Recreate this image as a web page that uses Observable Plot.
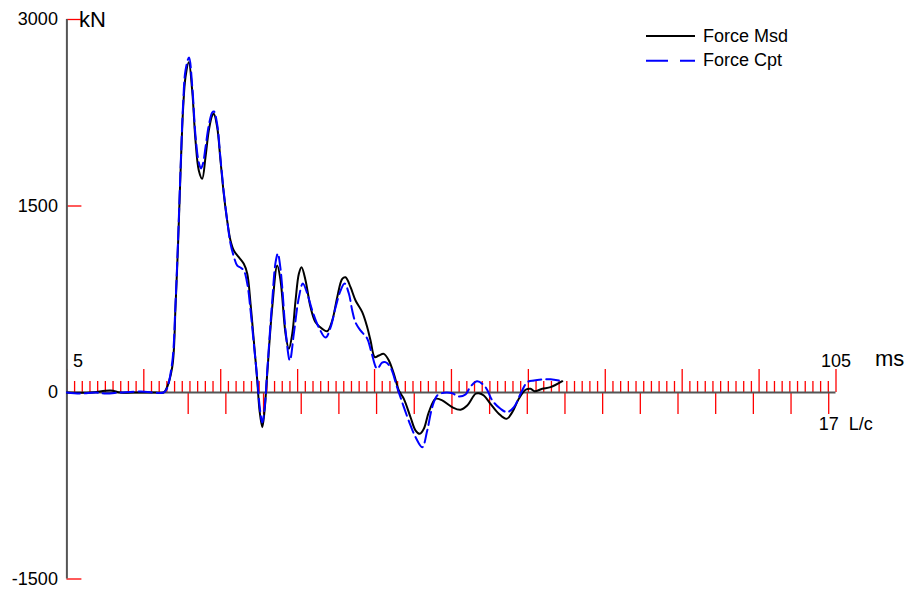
<!DOCTYPE html>
<html><head><meta charset="utf-8">
<script src="https://cdn.jsdelivr.net/npm/d3@7"></script>
<script src="https://cdn.jsdelivr.net/npm/@observablehq/plot@0.6"></script>
<style>
body{margin:0;background:#fff;}
#wrap{position:relative;width:909px;height:592px;font-family:"Liberation Sans",Arial,sans-serif;background:#fff;}
.lg{position:absolute;font-size:18px;line-height:20px;color:#000;white-space:nowrap;}
</style></head><body><div id="wrap"></div>
<script>
// Measured force (ms, kN)
const timeMsd = [5.0,8.07,10.67,11.97,14.57,16.52,17.56,17.82,18.69,19.12,19.47,19.77,20.12,20.42,20.85,21.29,21.72,22.15,22.59,23.02,23.45,23.89,24.10,24.54,24.97,25.40,25.84,26.27,26.70,27.35,28.00,28.45,28.88,29.30,29.75,30.05,30.40,30.70,31.05,31.70,32.35,32.78,33.43,33.86,34.30,34.73,35.16,35.51,36.03,36.68,37.33,38.20,38.85,39.50,40.15,40.80,41.23,41.88,42.53,43.40,44.05,44.48,45.04,45.56,46.21,46.86,47.51,48.16,48.81,49.68,50.34,50.89,51.41,52.06,52.93,53.80,55.10,56.18,57.05,58.13,58.56,59.21,60.08,61.16,62.16,62.91,63.76,64.64,65.29,65.81,66.81,67.89,69.41];
const forceMsd = [0,0,16,0,0,0,0,16,203,686,1223,1761,2295,2536,2657,2429,2027,1786,1719,1893,2107,2228,2242,2134,1866,1598,1383,1223,1142,1088,1035,955,713,418,97,-145,-279,-145,153,686,1021,901,472,351,472,740,955,1008,901,686,565,512,493,579,767,914,927,847,740,646,525,418,284,298,311,257,150,16,-51,-199,-306,-332,-292,-158,-51,-64,-118,-139,-105,-10,-6,-24,-91,-171,-212,-158,-51,22,30,10,30,43,91];
// Computed force (ms, kN)
const timeCpt = [5.0,6.77,8.72,10.02,11.97,14.57,17.56,17.95,18.69,19.12,19.47,19.77,20.12,20.42,20.88,21.29,21.72,22.15,22.44,22.70,23.02,23.45,23.89,24.12,24.54,24.97,25.40,25.84,26.27,26.70,27.15,27.57,28.00,28.45,28.88,29.30,29.75,30.05,30.40,30.70,31.05,31.70,32.13,32.43,32.72,33.00,33.43,33.99,34.51,35.16,35.68,36.25,36.90,37.76,38.63,39.28,39.93,40.58,41.10,41.66,42.10,42.53,43.17,44.05,44.60,45.34,45.98,46.41,47.06,47.93,48.81,49.68,50.34,51.20,51.85,52.50,53.15,54.01,55.10,55.92,56.83,57.48,58.35,59.43,60.31,61.38,62.25,63.12,63.99,64.86,65.73,66.81,67.89,68.97];
const forceCpt = [0,-8,0,-8,0,8,0,24,241,716,1255,1786,2332,2590,2694,2469,2067,1850,1802,1842,1971,2148,2252,2260,2156,1882,1609,1383,1198,1094,1021,1005,981,877,660,394,113,-105,-241,-129,177,740,1046,1118,1021,845,499,257,475,764,877,796,660,523,442,523,684,820,877,796,660,563,499,434,322,191,241,244,203,43,-118,-265,-360,-440,-306,-118,-24,-2,-6,-32,-16,48,91,43,-64,-131,-158,-118,-10,83,97,105,107,97];

const yTicks = [3000, 1500, 0, -1500];
const yTickLabels = ["3000", "1500", "0", "-1500"];
const msRange = [5, 105];
const msLabels = ["5", "105"];
const lcStartMs = 20.77, lcStepMs = 4.899, lcCount = 17;
const lcLabel = "17";

const W = 909, H = 592, ml = 66.4, mr = 73.5, mt = 19, mb = 13.5;
const kPerPx = (yTicks[0] - yTicks[yTicks.length-1]) / (H - mt - mb);
const msPerPx = (msRange[1] - msRange[0]) / (W - ml - mr);

const msTicks = d3.range(msRange[0], msRange[1] + 0.5, 1);
const majorMs = msTicks.filter(t => (t - msRange[0]) % 10 === 0);
const minorMs = msTicks.filter(t => (t - msRange[0]) % 10 !== 0);
const lcTicks = d3.range(0, lcCount + 1).map(k => lcStartMs + k * lcStepMs);

const msd = timeMsd.map((t, i) => ({t, f: forceMsd[i]}));
const cpt = timeCpt.map((t, i) => ({t, f: forceCpt[i]}));
const red = "#ff0000", axisCol = "#555555";

const chart = Plot.plot({
  width: W, height: H,
  marginLeft: ml, marginRight: mr, marginTop: mt, marginBottom: mb,
  style: {background: "#fff", fontFamily: '"Liberation Sans", Arial, sans-serif', overflow: "visible"},
  x: {domain: msRange, axis: null},
  y: {domain: [yTicks[yTicks.length-1], yTicks[0]], axis: null},
  marks: [
    Plot.ruleX(minorMs, {x: d => d, y1: 0, y2: 11 * kPerPx, stroke: red, strokeWidth: 1.3}),
    Plot.ruleX(majorMs, {x: d => d, y1: 0, y2: 23 * kPerPx, stroke: red, strokeWidth: 1.3}),
    Plot.ruleX(lcTicks, {x: d => d, y1: 0, y2: -22 * kPerPx, stroke: red, strokeWidth: 1.3}),
    Plot.ruleY(yTicks, {y: d => d, x1: msRange[0], x2: msRange[0] + 15 * msPerPx, stroke: red, strokeWidth: 1.3}),
    Plot.ruleX([msRange[0]], {y1: yTicks[yTicks.length-1], y2: yTicks[0], stroke: axisCol, strokeWidth: 2}),
    Plot.ruleY([0], {x1: msRange[0], x2: msRange[1], stroke: axisCol, strokeWidth: 2}),
    Plot.line(msd, {x: "t", y: "f", stroke: "#000", strokeWidth: 2, curve: "catmull-rom"}),
    Plot.line(cpt, {x: "t", y: "f", stroke: "#0000ff", strokeWidth: 2, strokeDasharray: "13,5", curve: "catmull-rom"}),
    Plot.text(yTicks, {x: msRange[0], y: d => d, text: (d, i) => yTickLabels[i], textAnchor: "end", dx: -9, fontSize: 18, fill: "#000"}),
    Plot.text(["kN"], {x: msRange[0], y: yTicks[0], text: d => d, textAnchor: "start", dx: 12, dy: 0, fontSize: 22, fill: "#000"}),
    Plot.text([msRange[0]], {x: d => d, y: 0, text: () => msLabels[0], textAnchor: "middle", dx: 11, dy: -31, fontSize: 18, fill: "#000"}),
    Plot.text([msRange[1]], {x: d => d, y: 0, text: () => msLabels[1], textAnchor: "middle", dx: 0, dy: -31, fontSize: 18, fill: "#000"}),
    Plot.text(["ms"], {x: msRange[1], y: 0, text: d => d, textAnchor: "start", dx: 39, dy: -34, fontSize: 22, fill: "#000"}),
    Plot.text([lcTicks[lcTicks.length-1]], {x: d => d, y: 0, text: () => lcLabel, textAnchor: "middle", dx: 0, dy: 32, fontSize: 18, fill: "#000"}),
    Plot.text(["L/c"], {x: lcTicks[lcTicks.length-1], y: 0, text: d => d, textAnchor: "start", dx: 20, dy: 32, fontSize: 18, fill: "#000"})
  ]
});
const wrap = document.getElementById("wrap");
wrap.appendChild(chart);

// Legend (top right, inside the plot area)
const lg = document.createElement("div");
lg.innerHTML = `
<svg style="position:absolute;left:640px;top:20px" width="62" height="50">
  <line x1="6" x2="55" y1="16" y2="16" stroke="#000" stroke-width="2"/>
  <line x1="6" x2="55" y1="40.7" y2="40.7" stroke="#0000ff" stroke-width="2" stroke-dasharray="22 12"/>
</svg>
<div class="lg" style="left:703px;top:26px">Force Msd</div>
<div class="lg" style="left:703px;top:49.5px">Force Cpt</div>`;
wrap.appendChild(lg);
</script>
</body></html>
